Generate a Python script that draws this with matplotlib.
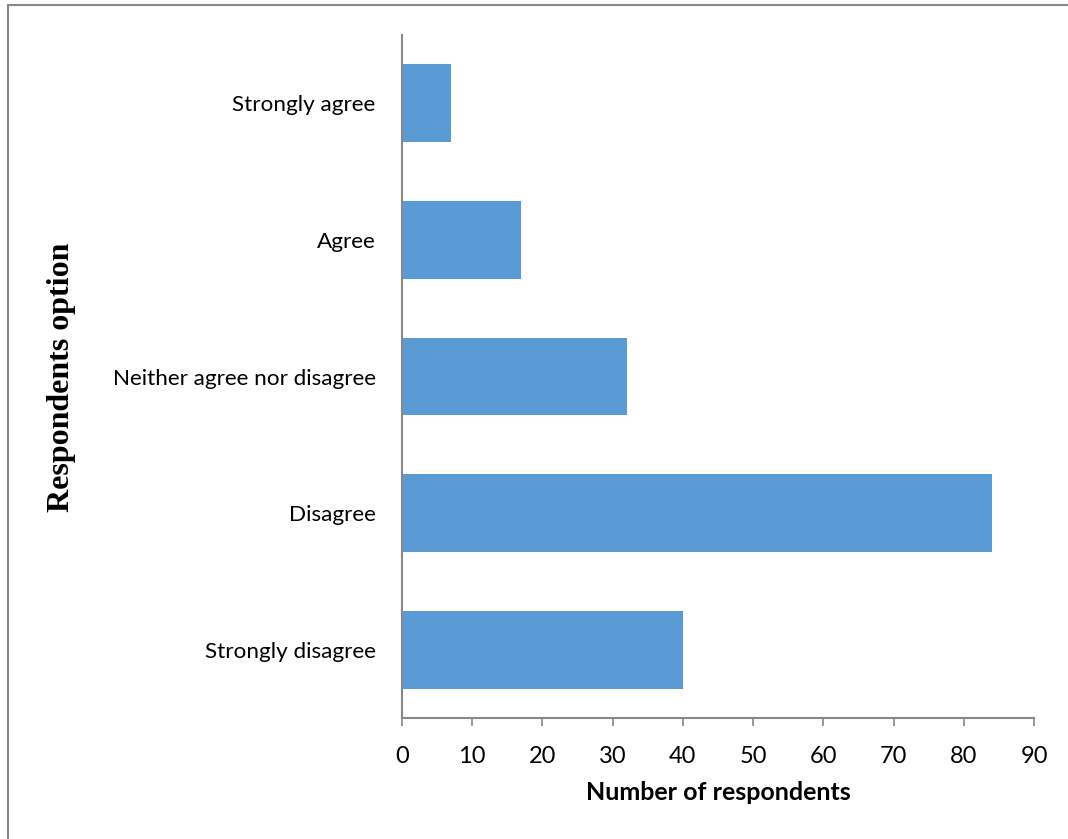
import matplotlib.pyplot as plt
from matplotlib.lines import Line2D

# ---------------- DATA ----------------

categories = ['Strongly disagree', 'Disagree', 'Neither agree nor disagree',
              'Agree', 'Strongly agree']
counts = [40, 84, 32, 17, 7]
x_ticks = [0, 10, 20, 30, 40, 50, 60, 70, 80, 90]

# ---------------- FIGURE ----------------

fig = plt.figure(figsize=(10.68, 8.39), dpi=100)
ax = fig.add_axes([0.3764, 0.1442, 0.5918, 0.8141])

ax.barh(range(len(categories)), counts, height=0.57, color='#5B9BD5')

ax.set_xlim(0, 90)
ax.set_ylim(-0.5, len(categories) - 0.5)
ax.set_xticks(x_ticks)
ax.set_yticks(range(len(categories)))
ax.set_yticklabels(categories)

for side in ['top', 'right']:
    ax.spines[side].set_visible(False)
for side in ['left', 'bottom']:
    ax.spines[side].set_color('#888888')
    ax.spines[side].set_linewidth(1.5)

ax.tick_params(axis='x', direction='out', length=6, width=1.2, color='#888888',
               labelsize=17, pad=14)
ax.tick_params(axis='y', length=0, labelsize=16.2, pad=19)
for lab in ax.get_xticklabels() + ax.get_yticklabels():
    lab.set_family('Lato')

ax.set_xlabel('Number of respondents', fontsize=18, fontweight='bold',
              family='Lato', labelpad=10)
fig.text(0.058, 0.55, 'Respondents option', rotation=90, fontsize=23,
         fontweight='bold', family='Liberation Serif', ha='center', va='center')

# ---------------- FRAME ----------------

fig.add_artist(Line2D([0.0075, 0.0075], [0, 0.994], transform=fig.transFigure,
                      color='#888888', lw=1.5))
fig.add_artist(Line2D([0.0075, 1], [0.994, 0.994], transform=fig.transFigure,
                      color='#888888', lw=1.5))

fig.savefig('out.png', dpi=100)
